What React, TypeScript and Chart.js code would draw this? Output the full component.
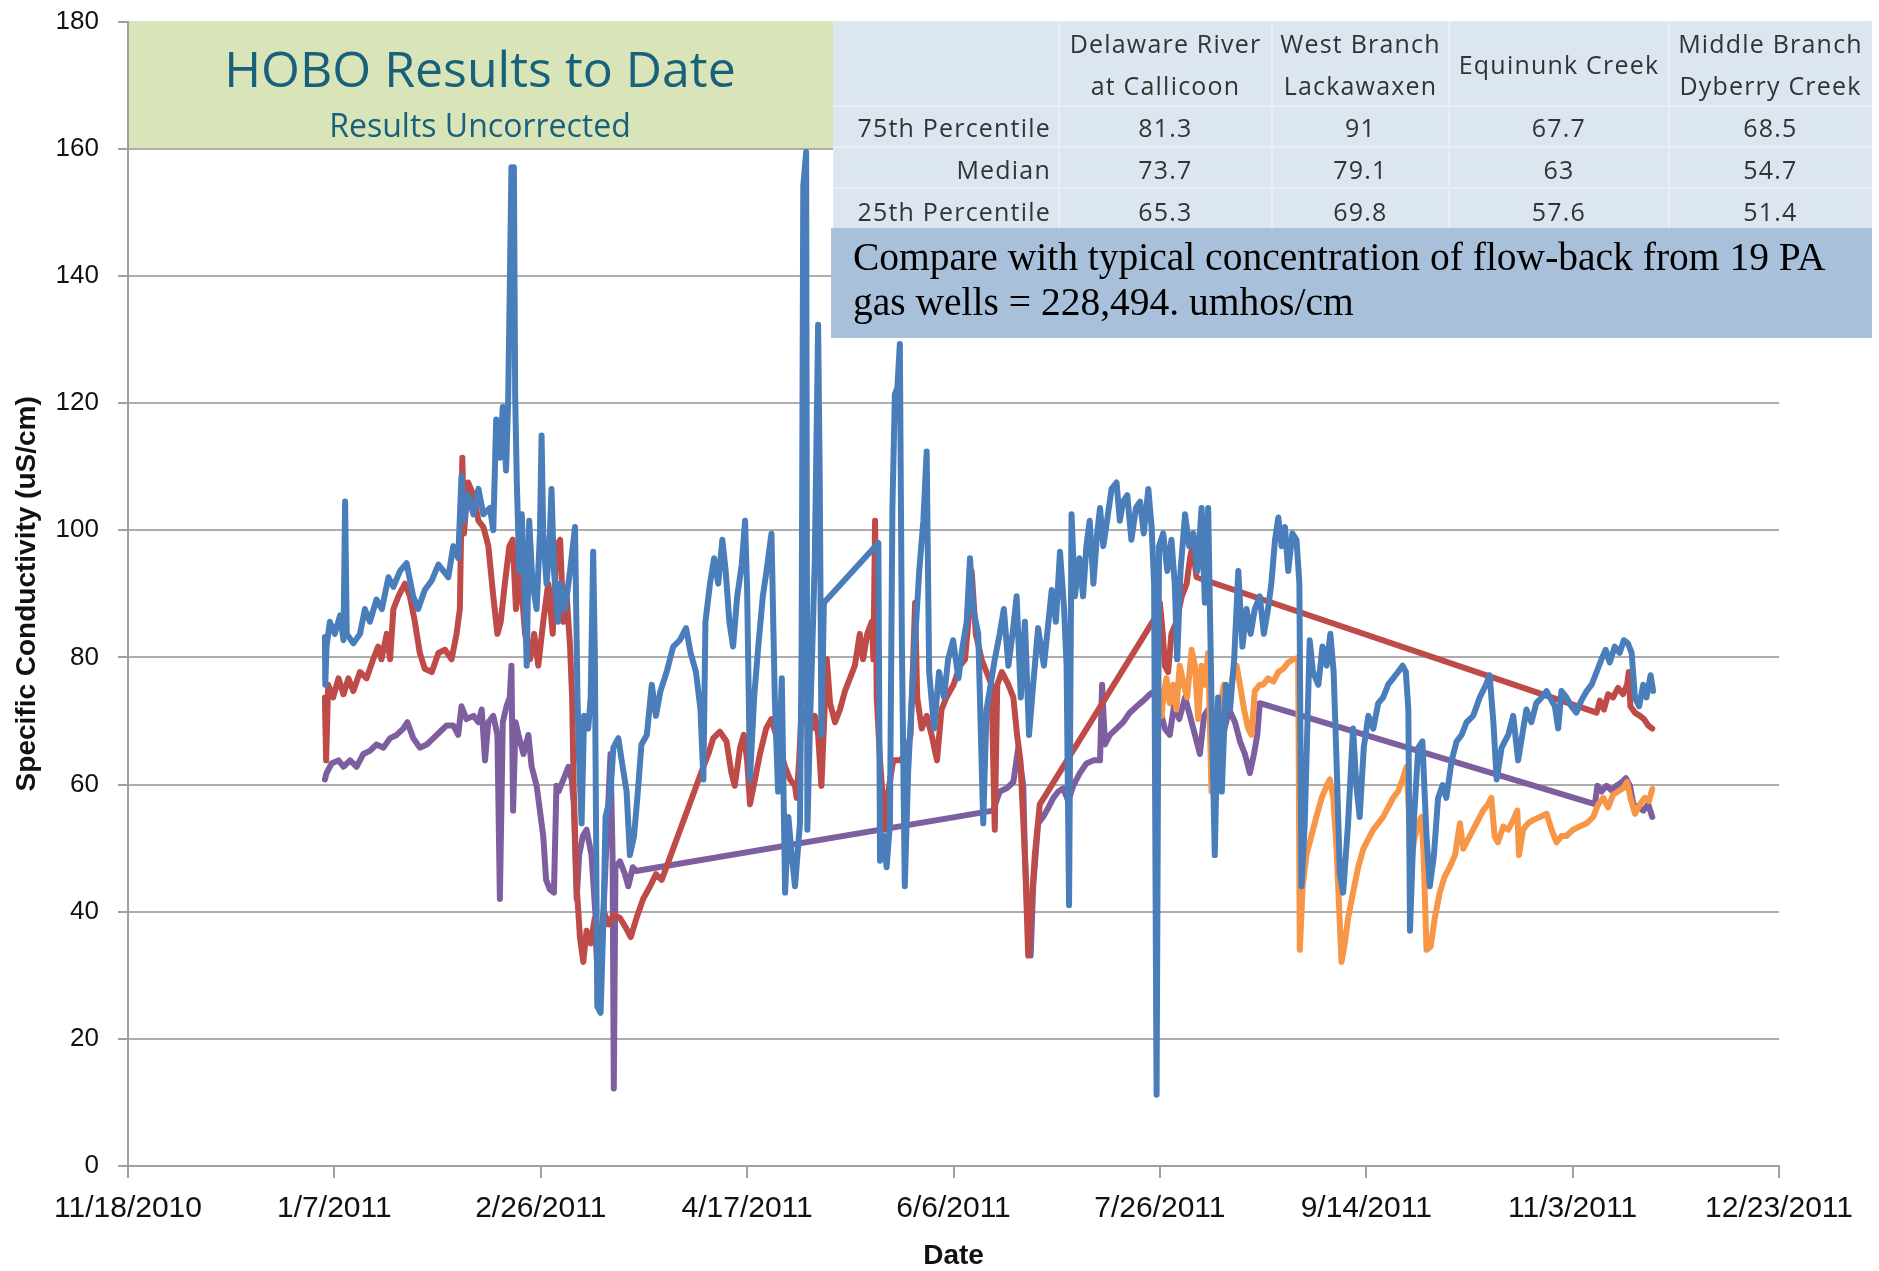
import React, { useEffect, useRef } from 'react';
import { Chart, registerables } from 'chart.js';

Chart.register(...registerables);

// x values are days since 11/18/2010
const X_TICK_LABELS = ['11/18/2010', '1/7/2011', '2/26/2011', '4/17/2011', '6/6/2011', '7/26/2011', '9/14/2011', '11/3/2011', '12/23/2011'];
const X_MIN = 0;
const X_MAX = 400;
const X_STEP = 50;
const Y_MIN = 0;
const Y_MAX = 180;
const Y_STEP = 20;

// Blue series: [day, uS/cm]
const BLUE_SERIES: [number, number][] = [
  [47.7, 83.2], [47.8, 75.7], [48.1, 81.7], [48.9, 85.6], [50.1, 83.7], [51.4, 86.6], [52.2, 82.7], [52.6, 104.5], [53.0, 83.7], [54.6, 82.2],
  [56.2, 83.7], [57.4, 87.6], [58.6, 85.6], [60.2, 89.1], [61.5, 87.6], [63.1, 92.6], [64.3, 91.1], [65.9, 93.6], [67.5, 94.8], [69.1, 89.6],
  [70.3, 87.6], [71.9, 90.6], [73.6, 92.1], [75.2, 94.6], [76.4, 93.6], [77.6, 92.6], [78.8, 97.5], [80.0, 95.6], [80.8, 108.5], [81.4, 101.5],
  [82.4, 105.5], [83.7, 102.5], [84.9, 106.5], [86.1, 102.5], [87.7, 103.5], [88.5, 100], [89.2, 117.4], [90.1, 111.4], [90.8, 119.4], [91.6, 109.4],
  [92.1, 120.4], [92.5, 138.2], [92.9, 157.1], [93.5, 157.1], [93.8, 121.4], [94.2, 107.5], [94.8, 93.6], [95.4, 102.5], [96.2, 88.6], [96.6, 78.7],
  [97.2, 101.5], [98.0, 91.6], [99.0, 87.6], [99.8, 99.5], [100.2, 114.9], [100.6, 99.5], [101.4, 91.6], [102.1, 97.5], [102.6, 106.5], [103.2, 93.6],
  [104.2, 85.6], [104.7, 91.6], [105.9, 87.6], [107.1, 93.6], [108.3, 100.5], [108.9, 73.7], [109.3, 63.8], [109.9, 53.9], [110.5, 70.8], [111.5, 68.8],
  [112.1, 73.7], [112.7, 96.6], [113.1, 80.7], [113.7, 25.1], [114.5, 24.1], [115.2, 39.0], [115.7, 54.9], [116.8, 57.9], [117.6, 65.8], [118.8, 67.3],
  [119.6, 63.8], [120.8, 58.9], [121.6, 48.9], [122.6, 51.9], [123.4, 57.9], [124.4, 66.3], [125.7, 67.8], [126.9, 75.7], [127.9, 70.8], [129.0, 74.7],
  [130.5, 77.7], [132.1, 81.7], [133.7, 82.7], [135.2, 84.6], [136.3, 80.7], [137.6, 77.7], [138.7, 71.8], [139.4, 60.8], [139.9, 85.6], [141.0, 91.6],
  [142.0, 95.6], [143.0, 91.6], [144.0, 98.5], [144.8, 93.6], [145.7, 85.6], [146.6, 81.7], [147.6, 89.6], [148.7, 94.6], [149.5, 101.5], [150.0, 90.6],
  [150.7, 60.8], [151.7, 73.7], [152.7, 81.7], [153.8, 89.6], [154.7, 93.6], [155.9, 99.5], [156.7, 73.7], [157.5, 58.9], [158.4, 76.7], [159.2, 43.0],
  [160.0, 54.9], [160.8, 48.9], [161.6, 44.0], [162.8, 53.9], [163.2, 81.7], [163.6, 154.1], [164.3, 159.5], [164.6, 52.9], [165.2, 68.8], [165.8, 81.7],
  [166.4, 95.6], [167.2, 132.3], [167.6, 107.5], [168.0, 67.8], [168.6, 88.6], [181.8, 98.0], [182.2, 48.0], [183.0, 52.0], [183.8, 47.0], [184.6, 53.9],
  [185.2, 103.5], [185.8, 121.4], [186.4, 122.4], [187.0, 129.3], [187.5, 81.7], [188.2, 44.0], [189.0, 61.8], [190.3, 78.7], [191.7, 93.6], [192.7, 101.5],
  [193.5, 112.4], [194.1, 77.7], [195.3, 68.8], [196.5, 77.7], [197.7, 73.7], [198.7, 79.7], [199.9, 82.7], [201.2, 76.7], [202.2, 81.7], [203.2, 85.6],
  [204.0, 95.6], [204.8, 87.6], [206.0, 83.7], [207.2, 53.9], [208.0, 71.8], [209.0, 75.7], [210.0, 79.7], [211.2, 83.7], [212.2, 87.6], [213.3, 78.7],
  [214.3, 83.7], [215.3, 89.6], [216.3, 73.7], [217.3, 85.6], [218.3, 67.8], [219.3, 75.7], [220.5, 84.6], [221.9, 78.7], [222.7, 83.7], [223.8, 90.6],
  [224.8, 85.6], [225.8, 96.6], [226.8, 87.6], [227.4, 78.7], [228.0, 41.0], [228.6, 102.5], [229.4, 89.6], [230.5, 95.6], [231.4, 89.6], [232.2, 97.5],
  [233.0, 101.5], [233.9, 91.6], [234.8, 99.5], [235.5, 103.5], [236.3, 97.5], [237.2, 101.5], [238.3, 106.5], [239.5, 107.5], [240.3, 101.5], [241.1, 104.5],
  [242.1, 105.5], [243.1, 98.5], [244.2, 103.5], [245.2, 104.5], [246.1, 99.5], [247.2, 106.5], [248.0, 100.5], [248.6, 91.6], [249.2, 11.2], [249.8, 97.5],
  [250.8, 99.5], [251.8, 93.6], [252.8, 98.5], [253.6, 91.6], [254.2, 79.7], [255.0, 93.6], [256.1, 102.5], [257.1, 97.5], [258.1, 99.5], [259.1, 93.6],
  [260.1, 103.5], [260.9, 88.6], [261.7, 103.5], [262.5, 73.7], [263.3, 48.9], [264.1, 73.7], [265.0, 58.9], [266.0, 75.7], [267.0, 71.8], [268.0, 79.7],
  [269.0, 93.6], [270.0, 81.7], [271.0, 87.6], [272.0, 83.7], [273.0, 87.6], [274.2, 89.6], [275.2, 83.7], [276.2, 87.6], [277.0, 91.6], [277.9, 98.5],
  [278.7, 102.0], [279.5, 97.5], [280.3, 100.5], [281.1, 93.6], [282.1, 99.5], [283.1, 98.5], [283.8, 91.6], [284.3, 44.0], [285.1, 53.9], [286.3, 82.7],
  [287.1, 77.7], [288.4, 75.7], [289.4, 81.7], [290.4, 78.7], [291.3, 83.7], [292.1, 77.7], [292.8, 63.8], [293.6, 46.0], [294.4, 43.0], [295.6, 53.9],
  [296.8, 68.8], [297.6, 59.9], [298.4, 54.9], [299.4, 65.8], [300.5, 70.8], [301.7, 68.8], [302.9, 72.8], [304.1, 73.7], [305.3, 75.7], [306.5, 76.7],
  [307.7, 77.7], [308.8, 78.7], [309.6, 77.7], [310.2, 71.8], [310.6, 37.0], [311.5, 53.9], [312.6, 65.8], [313.6, 66.8], [314.6, 51.9], [315.4, 44.0],
  [316.4, 48.9], [317.4, 57.9], [318.5, 59.9], [319.4, 57.9], [320.7, 63.8], [321.9, 66.8], [323.1, 67.8], [324.3, 69.8], [325.9, 70.8], [327.5, 73.7],
  [329.0, 75.7], [329.9, 77.2], [330.8, 69.8], [331.6, 60.8], [332.8, 65.8], [334.4, 67.8], [335.6, 70.8], [336.8, 63.8], [338.8, 71.8], [340.0, 69.8],
  [341.2, 72.8], [342.5, 73.7], [343.7, 74.7], [344.9, 73.2], [345.7, 72.3], [346.5, 68.8], [347.3, 74.7], [348.5, 73.7], [349.7, 72.3], [350.9, 71.3],
  [352.1, 73.2], [353.4, 74.7], [354.6, 75.7], [355.8, 77.7], [357.0, 79.7], [358.0, 81.2], [359.0, 79.2], [360.2, 81.7], [361.4, 80.7], [362.4, 82.7],
  [363.4, 82.2], [364.3, 80.7], [365.1, 73.7], [366.1, 72.3], [367.1, 75.7], [367.9, 73.7], [368.9, 77.2], [369.5, 74.7],
];

// Red series
const RED_SERIES: [number, number][] = [
  [47.7, 73.7], [48.0, 63.8], [48.5, 75.7], [49.7, 73.7], [51.0, 76.7], [52.2, 74.2], [53.4, 76.7], [54.6, 74.7], [56.2, 77.7], [57.8, 76.7],
  [59.4, 79.7], [60.6, 81.7], [61.4, 79.7], [62.7, 83.7], [63.5, 79.7], [64.3, 87.6], [65.5, 89.6], [67.1, 91.6], [68.3, 89.6], [69.5, 85.6],
  [70.7, 80.7], [71.9, 78.2], [73.6, 77.7], [75.2, 80.7], [76.8, 81.2], [78.4, 79.7], [79.6, 83.7], [80.4, 87.6], [81.0, 111.4], [81.4, 99.5],
  [82.4, 107.5], [83.7, 105.5], [84.9, 101.5], [86.1, 100.5], [87.3, 97.5], [88.5, 89.6], [89.5, 83.7], [90.3, 85.6], [91.3, 91.6], [92.4, 97.5],
  [93.2, 98.5], [94.0, 87.6], [95.0, 93.6], [96.2, 83.7], [97.4, 79.7], [98.4, 83.7], [99.4, 78.7], [100.6, 85.6], [101.8, 91.6], [102.9, 83.7],
  [103.8, 97.5], [104.7, 98.5], [105.5, 85.6], [106.3, 89.6], [107.1, 81.7], [107.6, 73.7], [108.0, 58.9], [108.7, 44.0], [109.5, 36.0], [110.3, 32.1],
  [111.1, 37.0], [112.1, 35.0], [113.1, 39.0], [113.7, 31.1], [114.5, 36.0], [115.3, 40.0], [116.4, 38.0], [117.6, 39.5], [119.2, 39.0], [120.6, 37.5],
  [121.8, 36.0], [123.2, 39.0], [124.8, 42.0], [126.5, 44.0], [127.9, 45.9], [129.3, 45.0], [139.4, 62.8], [140.6, 64.8], [141.8, 67.3], [143.4, 68.3],
  [145.0, 66.8], [146.2, 61.8], [147.0, 59.8], [148.3, 65.8], [149.2, 67.8], [150.0, 63.8], [150.7, 56.9], [151.9, 60.8], [153.1, 64.8], [154.6, 68.8],
  [155.9, 70.3], [157.0, 67.8], [158.0, 65.3], [159.2, 62.8], [160.4, 60.8], [161.6, 59.8], [162.0, 57.9], [162.6, 63.8], [163.2, 71.8], [164.4, 69.8],
  [165.6, 68.8], [166.4, 70.8], [167.2, 67.8], [168.0, 59.8], [168.9, 73.7], [169.3, 79.7], [170.1, 72.8], [171.3, 69.8], [172.5, 71.8], [173.7, 74.7],
  [174.9, 76.7], [176.1, 78.7], [177.3, 83.7], [178.1, 79.7], [179.1, 83.7], [180.2, 85.6], [180.6, 79.7], [181.0, 101.5], [181.4, 73.7], [182.2, 63.8],
  [183.4, 52.9], [184.2, 58.9], [185.4, 63.8], [187.0, 63.8], [188.6, 64.8], [189.6, 67.8], [190.7, 88.6], [191.2, 73.7], [192.3, 68.8], [193.5, 70.8],
  [194.7, 67.8], [196.0, 63.8], [197.1, 71.8], [198.3, 73.7], [200.0, 75.7], [201.6, 78.7], [202.8, 79.7], [203.6, 85.6], [204.4, 93.6], [205.4, 83.7],
  [206.8, 79.7], [208.0, 77.7], [209.2, 75.7], [210.0, 52.9], [210.6, 75.7], [211.7, 77.7], [213.3, 75.7], [214.5, 73.7], [215.4, 67.8], [216.2, 63.8],
  [217.3, 48.9], [218.1, 33.1], [219.7, 48.9], [220.9, 56.9], [221.9, 57.9], [249.2, 86.6], [250.0, 88.6], [250.7, 83.7], [251.2, 78.7], [252.0, 77.7],
  [252.8, 83.7], [254.0, 85.6], [255.3, 89.6], [256.5, 91.6], [257.3, 95.6], [257.9, 97.5], [258.9, 92.6], [355.8, 71.3], [356.6, 73.2], [357.6, 71.8],
  [358.6, 74.2], [359.8, 73.7], [361.0, 75.2], [362.2, 74.2], [363.2, 75.7], [363.6, 77.7], [364.0, 72.3], [365.1, 71.3], [366.3, 70.8], [367.3, 70.3],
  [368.3, 69.3], [369.3, 68.8],
];

// Purple series
const PURPLE_SERIES: [number, number][] = [
  [47.7, 60.8], [48.1, 61.8], [49.3, 63.3], [51.0, 63.8], [52.2, 62.8], [53.8, 63.8], [55.4, 62.8], [57.0, 64.8], [58.6, 65.3], [60.2, 66.3],
  [61.9, 65.8], [63.5, 67.3], [65.1, 67.8], [66.7, 68.8], [67.7, 69.8], [69.1, 67.3], [70.7, 65.8], [72.4, 66.3], [74.0, 67.3], [75.6, 68.3],
  [77.2, 69.3], [78.8, 69.3], [80.0, 67.8], [80.8, 72.3], [82.0, 70.3], [83.7, 70.8], [84.9, 69.8], [85.7, 71.8], [86.5, 63.8], [87.3, 69.8],
  [88.5, 70.8], [89.5, 67.8], [90.1, 42.0], [90.8, 69.8], [91.7, 72.3], [92.5, 73.7], [92.9, 78.7], [93.3, 55.9], [93.9, 69.8], [94.6, 67.8],
  [95.8, 64.8], [97.0, 67.8], [97.8, 62.8], [99.0, 59.8], [99.8, 55.9], [100.6, 51.9], [101.3, 45.0], [102.2, 43.5], [103.2, 43.0], [103.8, 59.8],
  [104.3, 58.9], [105.5, 60.8], [106.7, 62.8], [107.5, 60.8], [108.0, 56.9], [108.7, 42.0], [109.3, 48.9], [110.2, 51.9], [111.1, 52.9], [112.3, 48.9],
  [113.1, 41.0], [114.2, 31.1], [115.2, 40.0], [116.0, 51.9], [116.9, 64.8], [117.4, 48.9], [117.7, 12.2], [118.1, 47.0], [119.2, 47.9], [120.4, 45.9],
  [121.2, 44.0], [122.3, 47.0], [123.1, 46.4], [209.6, 55.9], [211.2, 58.9], [212.9, 59.4], [214.5, 60.4], [215.7, 65.8], [216.9, 59.8], [217.3, 48.9],
  [218.1, 37.0], [218.7, 33.1], [219.3, 44.0], [220.5, 53.9], [221.7, 54.9], [223.0, 56.4], [224.2, 57.9], [225.4, 58.9], [226.6, 59.4], [227.8, 57.4],
  [229.0, 59.8], [230.6, 61.8], [232.2, 63.3], [233.9, 63.8], [235.5, 63.8], [236.0, 75.7], [236.7, 66.3], [237.9, 67.8], [239.5, 68.8], [241.1, 69.8],
  [242.7, 71.3], [244.4, 72.3], [246.0, 73.2], [247.6, 74.2], [248.8, 74.7], [250.0, 71.8], [251.2, 68.8], [252.4, 67.8], [253.4, 72.3], [254.7, 70.3],
  [256.1, 73.7], [257.3, 70.8], [258.5, 67.8], [259.7, 64.8], [260.7, 70.8], [261.7, 71.8], [262.8, 67.8], [263.9, 65.8], [265.3, 67.8], [266.8, 71.8],
  [268.2, 69.8], [269.4, 66.8], [270.6, 64.8], [271.8, 61.8], [272.8, 64.8], [273.6, 67.8], [274.2, 72.8], [355.4, 56.9], [356.0, 59.8], [357.0, 58.9],
  [358.2, 59.8], [359.4, 59.1], [360.6, 59.8], [361.8, 60.3], [362.9, 61.0], [363.9, 59.8], [364.7, 56.9], [365.9, 56.4], [367.1, 55.9], [368.3, 56.9],
  [369.3, 54.9],
];

// Orange series
const ORANGE_SERIES: [number, number][] = [
  [250.4, 70.8], [251.0, 74.7], [251.6, 76.7], [252.4, 72.8], [253.2, 75.7], [254.0, 71.8], [254.8, 78.7], [255.8, 75.7], [256.6, 73.7], [257.7, 81.2],
  [258.5, 78.7], [259.3, 70.3], [260.1, 78.7], [260.9, 75.7], [261.7, 80.7], [262.5, 58.9], [263.6, 67.8], [264.5, 71.8], [265.5, 75.7], [266.6, 72.8],
  [267.8, 77.7], [268.6, 78.7], [269.4, 75.7], [270.4, 71.8], [271.4, 68.8], [272.2, 67.8], [273.0, 74.7], [274.2, 75.7], [275.0, 75.7], [276.2, 76.7],
  [277.5, 76.2], [278.7, 77.7], [279.9, 78.2], [281.1, 79.2], [282.3, 79.7], [283.5, 79.9], [283.9, 34.0], [284.6, 44.0], [285.5, 48.9], [286.7, 51.9],
  [287.9, 54.9], [289.2, 57.9], [290.4, 59.8], [291.2, 60.8], [292.0, 57.9], [292.8, 49.9], [293.4, 41.0], [294.0, 32.1], [294.8, 35.0], [295.6, 39.0],
  [296.8, 43.0], [298.0, 46.9], [299.3, 49.9], [300.5, 51.4], [301.7, 52.9], [302.9, 53.9], [304.1, 54.9], [305.3, 56.4], [306.5, 57.9], [307.7, 58.9],
  [308.8, 60.8], [309.8, 62.8], [310.3, 55.9], [310.7, 45.9], [311.5, 50.9], [312.6, 53.9], [313.4, 54.9], [313.9, 48.9], [314.6, 34.0], [315.6, 34.5],
  [316.6, 39.0], [317.8, 43.0], [319.0, 45.5], [320.2, 47.0], [321.5, 48.9], [322.7, 53.9], [323.5, 49.9], [324.7, 51.4], [325.9, 52.9], [327.1, 54.4],
  [328.3, 55.9], [329.5, 56.9], [330.3, 57.9], [331.1, 51.9], [331.9, 50.9], [333.2, 53.4], [334.4, 52.9], [335.6, 54.4], [336.6, 55.9], [337.0, 48.9],
  [338.0, 52.9], [339.2, 53.9], [340.4, 54.4], [342.1, 54.9], [343.7, 55.4], [344.9, 52.9], [346.1, 50.9], [347.3, 51.9], [348.5, 51.9], [350.1, 52.9],
  [351.7, 53.4], [353.4, 53.9], [355.0, 54.9], [356.2, 56.9], [357.4, 57.9], [358.6, 56.4], [359.8, 58.4], [361.0, 58.9], [362.2, 59.4], [363.2, 60.4],
  [364.0, 57.9], [365.1, 55.4], [366.3, 56.9], [367.5, 57.9], [368.5, 57.4], [369.3, 59.3],
];

const TABLE_COLUMNS = [['Delaware River', 'at Callicoon'], ['West Branch', 'Lackawaxen'], ['Equinunk Creek'], ['Middle Branch', 'Dyberry Creek']];
const TABLE_ROW_LABELS = ['75th Percentile', 'Median', '25th Percentile'];
const TABLE_VALUES = [
  ['81.3', '91', '67.7', '68.5'],
  ['73.7', '79.1', '63', '54.7'],
  ['65.3', '69.8', '57.6', '51.4'],
];

const TITLE = 'HOBO Results to Date';
const SUBTITLE = 'Results Uncorrected';
const NOTE_LINES = ['Compare with typical concentration of flow-back from 19 PA', 'gas wells = 228,494. umhos/cm'];

const toXY = (s: [number, number][]) => s.map(([x, y]) => ({ x, y }));

type TxtProps = { x: number; base: number; size: number; fam: string; k: number; align: 'left' | 'center' | 'right'; color: string; ls?: number; children: React.ReactNode };
function Txt({ x, base, size, fam, k, align, color, ls, children }: TxtProps) {
  const top = base - k * size;
  let left = x;
  let width = 1200;
  if (align === 'center') { left = x - 400; width = 800; }
  if (align === 'right') { left = x - 800; width = 800; }
  return (
    <div style={{ position: 'absolute', left, top, width, textAlign: align, fontFamily: fam, fontSize: size, lineHeight: size + 'px', color, whiteSpace: 'nowrap', letterSpacing: ls ? ls + 'px' : undefined }}>
      {children}
    </div>
  );
}

const OPEN = '"Open Sans", sans-serif';
const SERIF = '"Liberation Serif", serif';
const SANS = '"Liberation Sans", Arial, sans-serif';
const K_OPEN = 0.888;
const K_SERIF = 0.837;

export default function App() {
  const ref = useRef<HTMLCanvasElement>(null);
  useEffect(() => {
    document.body.style.overflow = 'hidden';
    const canvas = ref.current;
    if (!canvas) return;
    const lineDs = (label: string, data: [number, number][], color: string) => ({
      label,
      data: toXY(data),
      borderColor: color,
      backgroundColor: color,
      borderWidth: 6,
      pointRadius: 0,
      tension: 0,
      fill: false,
      borderJoinStyle: 'round' as const,
      borderCapStyle: 'round' as const,
    });
    const chart = new Chart(canvas, {
      type: 'line',
      data: {
        datasets: [
          lineDs('West Branch Lackawaxen', BLUE_SERIES, '#4a7ebb'),
          lineDs('Middle Branch Dyberry Creek', ORANGE_SERIES, '#f79646'),
          lineDs('Delaware River at Callicoon', RED_SERIES, '#be4b48'),
          lineDs('Equinunk Creek', PURPLE_SERIES, '#7d5fa0'),
        ],
      },
      options: {
        responsive: false,
        animation: false,
        devicePixelRatio: 1,
        layout: { padding: { left: 0, right: 100, top: 21.6, bottom: 0 } },
        plugins: { legend: { display: false }, tooltip: { enabled: false } },
        scales: {
          x: {
            type: 'linear',
            min: X_MIN,
            max: X_MAX,
            afterFit: (s: any) => { s.height = 105; s.paddingLeft = 0; s.paddingRight = 0; },
            ticks: {
              stepSize: X_STEP,
              autoSkip: false,
              maxRotation: 0,
              padding: 13,
              color: '#111',
              font: { family: SANS, size: 30 },
              callback: (v: any) => X_TICK_LABELS[Math.round((Number(v) - X_MIN) / X_STEP)] ?? '',
            },
            grid: { drawOnChartArea: false, drawTicks: true, tickLength: 12, color: '#a0a0a0', lineWidth: 2 },
            border: { display: true, color: '#a0a0a0', width: 2 },
            title: { display: true, text: 'Date', color: '#111', font: { family: SANS, size: 28, weight: 'bold', lineHeight: 1 }, padding: { top: 0, bottom: 0.5 } },
          },
          y: {
            min: Y_MIN,
            max: Y_MAX,
            afterFit: (s: any) => { s.width = 128; s.paddingTop = 0; s.paddingBottom = 0; },
            ticks: { stepSize: Y_STEP, padding: 19, color: '#111', font: { family: SANS, size: 26 } },
            grid: { color: '#adadad', lineWidth: 2, tickLength: 10, tickColor: '#a0a0a0' },
            border: { display: true, color: '#a0a0a0', width: 2 },
            title: { display: true, text: 'Specific Conductivity (uS/cm)', color: '#111', font: { family: SANS, size: 28, weight: 'bold' }, padding: { top: 10, bottom: 0 } },
          },
        },
      } as any,
    });
    return () => chart.destroy();
  }, []);

  const cols = [833, 1059, 1272, 1449, 1669, 1872];
  const rowBase = [137, 179, 221];
  const tableColor = '#333';
  const tFont = 25;
  const tLs = 1.2;

  return (
    <div style={{ position: 'absolute', left: 0, top: 0, width: 1879, height: 1271, background: '#fff', overflow: 'hidden' }}>
      <canvas ref={ref} width={1879} height={1271} style={{ position: 'absolute', left: 0, top: 0, width: 1879, height: 1271 }} />

      {/* title box */}
      <div style={{ position: 'absolute', left: 129, top: 21, width: 704, height: 127, background: '#d9e4b9' }} />
      <Txt x={480} base={87} size={50} fam={OPEN} k={K_OPEN} align="center" color="#17617a">{TITLE}</Txt>
      <Txt x={480} base={137} size={32} fam={OPEN} k={K_OPEN} align="center" color="#17617a">{SUBTITLE}</Txt>

      {/* stats table */}
      <div style={{ position: 'absolute', left: 833, top: 21, width: 1039, height: 209, background: '#dce6f1', border: '1px solid #e4e9ef', boxSizing: 'border-box' }} />
      {cols.slice(1, 5).map((c, i) => (
        <div key={'v' + i} style={{ position: 'absolute', left: c - 1, top: 21, width: 2, height: 209, background: '#e9eef5' }} />
      ))}
      {[106, 147, 188].map((r, i) => (
        <div key={'h' + i} style={{ position: 'absolute', left: 833, top: r - 1, width: 1039, height: 2, background: '#e9eef5' }} />
      ))}
      {TABLE_COLUMNS.map((lines, i) => {
        const cx = (cols[i + 1] + cols[i + 2]) / 2;
        if (lines.length === 1) {
          return <Txt key={'c' + i} x={cx} base={74} size={tFont} fam={OPEN} k={K_OPEN} align="center" color={tableColor} ls={tLs}>{lines[0]}</Txt>;
        }
        return (
          <React.Fragment key={'c' + i}>
            <Txt x={cx} base={53} size={tFont} fam={OPEN} k={K_OPEN} align="center" color={tableColor} ls={tLs}>{lines[0]}</Txt>
            <Txt x={cx} base={95} size={tFont} fam={OPEN} k={K_OPEN} align="center" color={tableColor} ls={tLs}>{lines[1]}</Txt>
          </React.Fragment>
        );
      })}
      {TABLE_ROW_LABELS.map((lab, r) => (
        <Txt key={'r' + r} x={1051} base={rowBase[r]} size={tFont} fam={OPEN} k={K_OPEN} align="right" color={tableColor} ls={tLs}>{lab}</Txt>
      ))}
      {TABLE_VALUES.map((row, r) => row.map((v, c) => (
        <Txt key={'t' + r + '_' + c} x={(cols[c + 1] + cols[c + 2]) / 2} base={rowBase[r]} size={tFont} fam={OPEN} k={K_OPEN} align="center" color={tableColor} ls={tLs}>{v}</Txt>
      )))}

      {/* note box */}
      <div style={{ position: 'absolute', left: 831, top: 228, width: 1041, height: 110, background: '#a9c0da' }} />
      <Txt x={853} base={271} size={39.5} fam={SERIF} k={K_SERIF} align="left" color="#000">{NOTE_LINES[0]}</Txt>
      <Txt x={853} base={316} size={39.5} fam={SERIF} k={K_SERIF} align="left" color="#000">{NOTE_LINES[1]}</Txt>
    </div>
  );
}
